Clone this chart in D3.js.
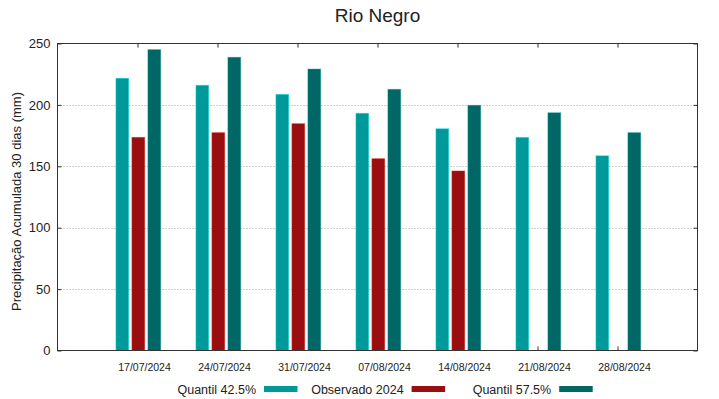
<!DOCTYPE html>
<html>
<head>
<meta charset="utf-8">
<script src="https://cdn.jsdelivr.net/npm/d3@7"></script>
<style>
  body { margin: 0; background: #fff; }
  svg text { font-family: "Liberation Sans", Arial, sans-serif; fill: #222; }
</style>
</head>
<body>
<div id="chart"></div>
<script>
// chart data
const dates = ["17/07/2024", "24/07/2024", "31/07/2024", "07/08/2024", "14/08/2024", "21/08/2024", "28/08/2024"];
const quantil425 = [221.7, 216, 208.6, 193.2, 180.6, 173.6, 158.6];
const observado = [173.6, 177.4, 184.7, 156.2, 146.2, null, null];
const quantil575 = [245, 238.8, 229.2, 212.7, 199.7, 193.6, 177.4];
const yTicks = [0, 50, 100, 150, 200, 250];

const series = [
  { name: "Quantil 42.5%", values: quantil425, color: "#009999", offset: -0.19 },
  { name: "Observado 2024", values: observado, color: "#990f0f", offset: 0.01 },
  { name: "Quantil 57.5%", values: quantil575, color: "#006666", offset: 0.21 }
];

let width = 719, height = 399;
let margin = { top: 43.5, right: 21.5, bottom: 48.5, left: 57.5 };

let svg = d3.select("#chart").append("svg")
  .attr("width", width)
  .attr("height", height);

// categories sit at 1..7 on a 0..8 axis
let x = d3.scaleLinear().domain([0, dates.length + 1]).range([margin.left, width - margin.right]);
let y = d3.scaleLinear().domain([0, 250]).range([height - margin.bottom, margin.top]);
let barWidth = 0.16;

// title
svg.append("text")
  .attr("x", (margin.left + width - margin.right) / 2)
  .attr("y", 22)
  .attr("text-anchor", "middle")
  .style("font-size", "19px")
  .text("Rio Negro");

// grid lines
svg.append("g")
  .selectAll("line")
  .data(yTicks.filter(d => d > 0 && d < 250))
  .enter().append("line")
  .attr("x1", margin.left)
  .attr("x2", width - margin.right)
  .attr("y1", d => Math.round(y(d)) + 0.5)
  .attr("y2", d => Math.round(y(d)) + 0.5)
  .attr("stroke", "#a0a0a0")
  .attr("stroke-width", 1)
  .attr("stroke-dasharray", "1,2");

// bars
series.forEach(function(s) {
  svg.append("g")
    .selectAll("rect")
    .data(s.values.map((v, i) => ({ v: v, i: i })).filter(d => d.v != null))
    .enter().append("rect")
    .attr("x", d => x(d.i + 1 + s.offset - barWidth / 2))
    .attr("width", x(barWidth) - x(0))
    .attr("y", d => y(d.v))
    .attr("height", d => y(0) - y(d.v))
    .attr("fill", s.color)
    .attr("stroke", d3.color(s.color).brighter(1.2))
    .attr("stroke-opacity", 0.5)
    .attr("stroke-width", 0.8);
});

// frame
svg.append("rect")
  .attr("x", margin.left)
  .attr("y", margin.top)
  .attr("width", width - margin.right - margin.left)
  .attr("height", height - margin.bottom - margin.top)
  .attr("fill", "none")
  .attr("stroke", "#333")
  .attr("stroke-width", 1);

// y axis, ticks pointing inward
let yAxis = svg.append("g")
  .attr("transform", "translate(" + margin.left + ",0)")
  .call(d3.axisRight(y).tickValues(yTicks).tickSize(4).tickFormat(""));
yAxis.select(".domain").remove();
yAxis.selectAll("line").attr("stroke", "#333");

let yAxisR = svg.append("g")
  .attr("transform", "translate(" + (width - margin.right) + ",0)")
  .call(d3.axisLeft(y).tickValues(yTicks).tickSize(4).tickFormat(""));
yAxisR.select(".domain").remove();
yAxisR.selectAll("line").attr("stroke", "#333");

svg.append("g")
  .selectAll("text")
  .data(yTicks)
  .enter().append("text")
  .attr("x", margin.left - 7)
  .attr("y", d => y(d))
  .attr("dy", "0.36em")
  .attr("text-anchor", "end")
  .style("font-size", "13px")
  .text(d => d);

// x axis, ticks pointing inward top and bottom
let xTickVals = dates.map((d, i) => i + 1);
let xAxisTop = svg.append("g")
  .attr("transform", "translate(0," + margin.top + ")")
  .call(d3.axisBottom(x).tickValues(xTickVals).tickSize(4).tickFormat(""));
xAxisTop.select(".domain").remove();
xAxisTop.selectAll("line").attr("stroke", "#333");

let xAxisBottom = svg.append("g")
  .attr("transform", "translate(0," + (height - margin.bottom) + ")")
  .call(d3.axisTop(x).tickValues(xTickVals).tickSize(4).tickFormat(""));
xAxisBottom.select(".domain").remove();
xAxisBottom.selectAll("line").attr("stroke", "#333");

svg.append("g")
  .selectAll("text")
  .data(dates)
  .enter().append("text")
  .attr("x", (d, i) => x(i + 1) + 7)
  .attr("y", 371)
  .attr("text-anchor", "middle")
  .style("font-size", "10.5px")
  .text(d => d);

// y label
svg.append("text")
  .attr("transform", "translate(21," + 201.5 + ") rotate(-90)")
  .attr("text-anchor", "middle")
  .style("font-size", "13px")
  .text("Precipitação Acumulada 30 dias (mm)");

// legend
let legend = svg.selectAll("g.legend")
  .data(series)
  .enter().append("g")
  .attr("class", "legend")
  .attr("transform", (d, i) => "translate(" + (264 + i * 147.6) + ",389)");

legend.append("rect")
  .attr("x", 0)
  .attr("y", -3)
  .attr("width", 33.5)
  .attr("height", 6)
  .attr("fill", d => d.color);

legend.append("text")
  .attr("x", -8)
  .attr("y", 4.5)
  .attr("text-anchor", "end")
  .style("font-size", "12.5px")
  .text(d => d.name);
</script>
</body>
</html>
